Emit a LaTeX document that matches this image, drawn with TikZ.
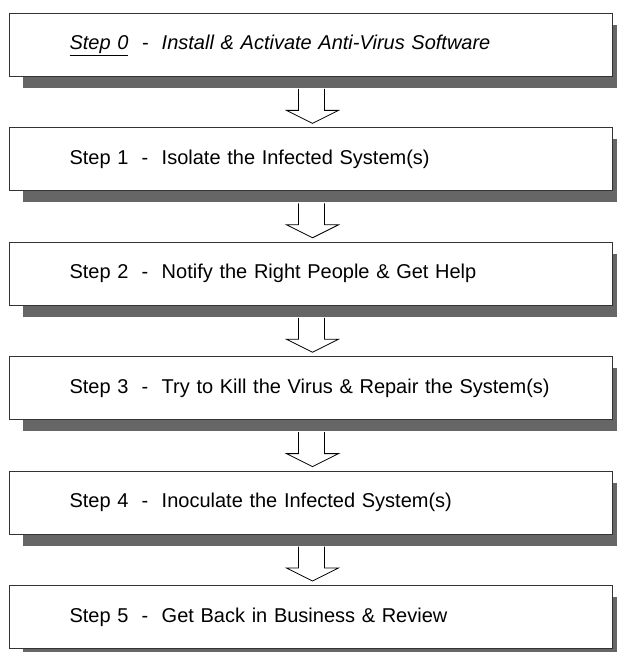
\documentclass[tikz,border=0pt]{standalone}
\usepackage{fontspec}
\setmainfont{Liberation Sans}
\usetikzlibrary{calc}
\definecolor{shadowc}{HTML}{666666}
\definecolor{edgec}{HTML}{333333}
\begin{document}
\begin{tikzpicture}[x=1pt,y=-1pt,
  stepbox/.style={draw=edgec, line width=1pt, fill=white, rectangle, anchor=north west,
    minimum width=603pt, minimum height=63pt, text width=603pt, inner xsep=0pt, inner ysep=0pt,
    align=left, font=\fontsize{20}{24}\selectfont},
  shade/.style={fill=shadowc},
  downarrow/.style={draw=black, line width=0.8pt, fill=white, line join=miter}]
\useasboundingbox (0,0) rectangle (617,652);
\foreach \i in {0,...,5} {
  \pgfmathsetmacro{\top}{13+114.4*\i}
  \fill[shade] (23,\top+12) rectangle (630,\top+75);
}
\node[stepbox] (b0) at (9,13) {\hspace*{60pt}\textit{\underline{Step 0}\ \ -\ \ Install \& Activate Anti-Virus Software}};
\node[stepbox] (b1) at (9,127.4) {\hspace*{60pt}Step 1\ \ -\ \ Isolate the Infected System(s)};
\node[stepbox] (b2) at (9,241.8) {\hspace*{60pt}Step 2\ \ -\ \ Notify the Right People \& Get Help};
\node[stepbox] (b3) at (9,356.2) {\hspace*{60pt}Step 3\ \ -\ \ Try to Kill the Virus \& Repair the System(s)};
\node[stepbox] (b4) at (9,470.6) {\hspace*{60pt}Step 4\ \ -\ \ Inoculate the Infected System(s)};
\node[stepbox] (b5) at (9,585) {\hspace*{60pt}Step 5\ \ -\ \ Get Back in Business \& Review};
\foreach \a/\b in {b0/b1,b1/b2,b2/b3,b3/b4,b4/b5} {
  \draw[downarrow] ($(\a.south)+(-12.5,12)$) -- ($(\b.north)+(-12.5,-17)$) -- ($(\b.north)+(-24.5,-17)$)
     -- ($(\b.north)+(1.5,-4)$) -- ($(\b.north)+(27.5,-17)$) -- ($(\b.north)+(13.5,-17)$)
     -- ($(\a.south)+(13.5,12)$);
}
\end{tikzpicture}
\end{document}
